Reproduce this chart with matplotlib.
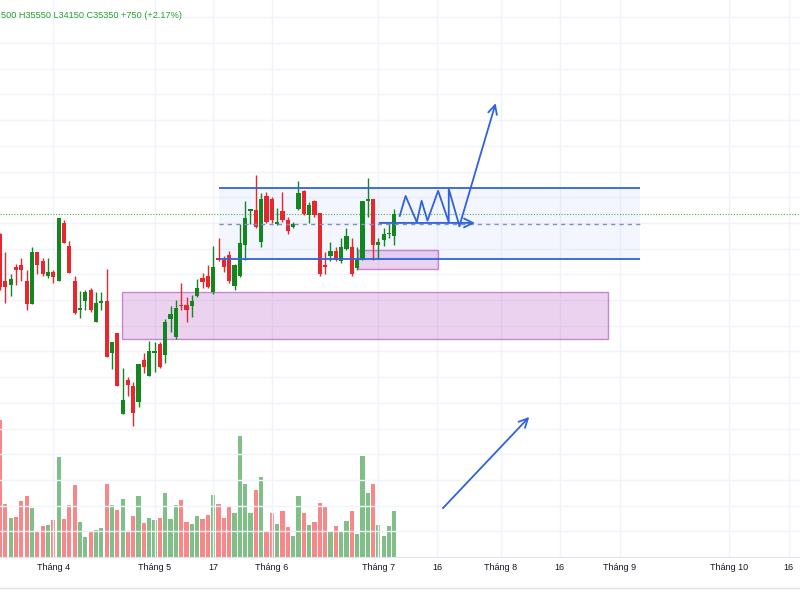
import numpy as np
import matplotlib.pyplot as plt
from matplotlib.lines import Line2D
from matplotlib.patches import Rectangle

# daily candles (VND)
opens = [34550, 32750, 32600, 33300, 33350, 32750, 31850, 33850, 33500, 32950,
         33100, 32750, 35000, 34100, 32750, 31600, 31950, 32400, 31150, 31900,
         31950, 29950, 30700, 27550, 28900, 28650, 28050, 29650, 29050, 29950,
         30300, 29850, 31250, 30550, 31800, 31800, 31750, 32150, 32850, 32950,
         32300, 33650, 33550, 33750, 32550, 32950, 34150, 35450, 35500, 34250,
         36050, 35950, 34950, 35450, 35100, 34850, 35550, 36250, 35300, 35850,
         35400, 33350, 33700, 33900, 33500, 34000, 34050, 33250, 33550, 35850,
         35950, 34150, 34350, 34550, 34500]
highs = [34600, 33850, 33000, 33400, 33650, 33150, 34050, 33850, 33650, 33650,
         33150, 35200, 35100, 34300, 32950, 32350, 32400, 32450, 32300, 32300,
         33200, 30350, 30700, 29350, 29000, 28800, 29500, 29950, 30400, 30350,
         30350, 31250, 31750, 32000, 32650, 32100, 32200, 32800, 33050, 33350,
         34100, 34400, 33700, 33900, 33400, 34950, 35850, 35550, 36850, 36150,
         36200, 36000, 35600, 36200, 35250, 35050, 36650, 36300, 35800, 35900,
         35400, 33850, 34250, 34050, 34400, 34800, 34400, 34050, 35850, 36750,
         35950, 34400, 34800, 35000, 35550]
lows = [32400, 31900, 32150, 32600, 32750, 31600, 31850, 33000, 32950, 32850,
        32650, 32750, 34200, 33050, 31450, 31300, 31600, 31550, 31150, 31600,
        29800, 29300, 28650, 27550, 28250, 27100, 27850, 29150, 29050, 29200,
        29350, 29550, 30750, 30500, 31600, 31150, 31350, 32100, 32450, 32450,
        32250, 33500, 33100, 32650, 32400, 32900, 33550, 34950, 34800, 34050,
        35000, 35000, 34900, 35050, 34550, 34800, 35500, 35300, 35000, 35250,
        32950, 33000, 33500, 33500, 33450, 33950, 32950, 33150, 33550, 35250,
        33550, 33600, 34100, 34400, 34150]
closes = [32500, 32500, 32800, 33150, 33150, 31850, 33850, 33350, 33000, 33100,
          32900, 35200, 34200, 33050, 31500, 31700, 32300, 31600, 31900, 31950,
          29800, 30350, 28650, 28100, 28700, 27600, 29500, 29400, 30000, 30000,
          29400, 31150, 31450, 31700, 31750, 31600, 31950, 32450, 32700, 32500,
          33300, 33550, 33300, 32750, 33350, 34200, 35200, 35550, 34850, 35950,
          35050, 35100, 35050, 35100, 34700, 34950, 36150, 35350, 35700, 35300,
          33000, 33300, 33900, 33550, 34050, 34500, 33000, 33550, 35850, 35950,
          34150, 34250, 34550, 34600, 35350]
volumes = [13670, 5340, 3940, 4000, 5600, 6070, 4940, 2500, 3140, 3200,
           3670, 10000, 3840, 5170, 7200, 3540, 1970, 2500, 2670, 2940,
           7270, 5170, 4670, 5770, 2500, 4070, 6100, 3400, 3870, 3740,
           3870, 6400, 3800, 5240, 5740, 3540, 3340, 4140, 3800, 4240,
           6240, 5340, 3940, 5100, 4440, 12100, 7340, 4440, 6740, 8000,
           2600, 4440, 3270, 4570, 3000, 2100, 6100, 4440, 3200, 3540,
           5440, 5000, 2540, 3070, 2500, 3600, 4640, 2340, 10140, 6400,
           7270, 3200, 2070, 3070, 4570]

tick_pos = [10, 29, 40, 51, 71, 82, 94, 105, 116.3, 136.8, 148]
tick_labels = ["Tháng 4", "Tháng 5", "17", "Tháng 6", "Tháng 7", "16",
               "Tháng 8", "16", "Tháng 9", "Tháng 10", "16"]

header = "500 H35550 L34150 C35350 +750 (+2.17%)"

# drawings (bar index, price)
channel_bars = [41, 120]
channel_top = 36350
channel_mid = 34975
channel_bottom = 33600
zone_big = [22.9, 114, 30500, 32300]
zone_small = [67.2, 82.2, 33200, 33950]
zig_x = [75.0, 76.1, 78.2, 79.1, 80.2, 82.2, 84.2, 84.2, 86.2, 93.0]
zig_y = [35270, 36050, 35030, 35860, 35090, 36250, 35030, 36320, 34880, 39660]
side_arrow = [(71.2, 35000), (89.1, 35000)]
up_arrow = [(83.1, 23900), (99.3, 27450)]

up_col = "#14861f"
down_col = "#e8262b"
vol_up = "#80c088"
vol_down = "#f8878a"
blue = "#2f62e0"
purple = (0.61, 0.15, 0.69)

fig = plt.figure(figsize=(8, 6), dpi=100)
ax = fig.add_axes([0, 43 / 600, 1, 557 / 600])
ax_v = ax.twinx()
ax.set_zorder(ax_v.get_zorder() + 1)
ax.patch.set_visible(False)

x = np.arange(len(opens))
o = np.array(opens)
c = np.array(closes)
up = c >= o

# volume
ax_v.bar(x, volumes, width=0.78, color=np.where(up, vol_up, vol_down), linewidth=0)
ax_v.set_ylim(0, 55700)
ax_v.set_yticks([])
for s in ax_v.spines.values():
    s.set_visible(False)

# candles
cols = np.where(up, up_col, down_col)
ax.vlines(x, lows, highs, colors=cols, linewidth=1, zorder=3)
body_h = np.maximum(np.abs(c - o), 60)
ax.bar(x, body_h, bottom=np.minimum(o, c), width=0.78, color=cols, linewidth=0, zorder=3)

# zones
for x0, x1, y0, y1 in [zone_big, zone_small]:
    ax.add_patch(Rectangle((x0, y0), x1 - x0, y1 - y0, facecolor=(*purple, 0.2),
                           edgecolor=(*purple, 0.5), linewidth=1, zorder=2))

# channel
ax.add_patch(Rectangle((channel_bars[0], channel_bottom), channel_bars[1] - channel_bars[0],
                       channel_top - channel_bottom, facecolor=(0.16, 0.38, 1, 0.05),
                       edgecolor="none", zorder=1))
ax.hlines([channel_top, channel_bottom], channel_bars[0], channel_bars[1],
          colors=blue, linewidth=1.3, zorder=4)
ax.hlines(channel_mid, channel_bars[0], channel_bars[1], colors="#7d8fc8",
          linewidth=1, linestyles=(0, (3, 3)), zorder=4)

# last price line
ax.axhline(closes[-1], color="#4caf50", linewidth=0.8, linestyle=(0, (1, 1.5)), zorder=1)

# zigzag scenario with arrows
ax.plot(zig_x[:-1], zig_y[:-1], color=blue, linewidth=1.3, zorder=5)
arrow = dict(arrowstyle="->", color=blue, linewidth=1.3, mutation_scale=16, shrinkA=0, shrinkB=0)
ax.annotate("", xy=(zig_x[-1], zig_y[-1]), xytext=(zig_x[-2], zig_y[-2]), arrowprops=arrow, zorder=5)
ax.annotate("", xy=side_arrow[1], xytext=side_arrow[0], arrowprops=arrow, zorder=5)
ax.annotate("", xy=up_arrow[1], xytext=up_arrow[0], arrowprops=arrow, zorder=5)

ax.set_xlim(0, 150.1)
ax.set_ylim(22000, 43675)
ax.set_yticks(np.arange(23000, 44000, 1000))
ax.set_xticks(tick_pos, tick_labels)
ax.tick_params(axis="y", left=False, labelleft=False)
ax.tick_params(axis="x", length=0, pad=4, labelsize=6.5, colors="#131722")
for lab in ax.get_xticklabels():
    lab.set_fontfamily("Liberation Sans")
ax.grid(True, color="#f0f3fa", linewidth=1)
ax.set_axisbelow(True)
for s in ["top", "left", "right"]:
    ax.spines[s].set_visible(False)
ax.spines["bottom"].set_color("#e0e3eb")

fig.add_artist(Line2D([0, 1], [12 / 600, 12 / 600], color="#e0e3eb", linewidth=1))
fig.text(0.001, 1 - 16 / 600, header, color="#23a02f", fontsize=6.6,
         family="Liberation Sans", va="center", ha="left")

fig.savefig("out.png", dpi=100)
